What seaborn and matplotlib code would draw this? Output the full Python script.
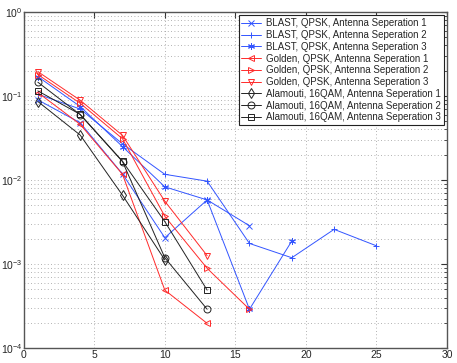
import matplotlib.pyplot as plt
import matplotlib as mpl
import seaborn as sns
import pandas as pd
import numpy as np

sns.set_style("white")
plt.rcParams['font.family'] = ['Liberation Sans', 'DejaVu Sans']
mpl.rcParams['axes.edgecolor'] = '#555555'

# SNR-like sweep points shared by all series
x_all = [1, 4, 7, 10, 13, 16, 19, 22, 25]

blast_1 = [0.09, 0.048, 0.0118, 0.00206, 0.0058, 0.00286]
blast_2 = [0.105, 0.07, 0.027, 0.0117, 0.0097, 0.00176, 0.00119, 0.00259, 0.00165]
blast_3 = [0.17, 0.075, 0.025, 0.0083, 0.0058, 0.00029, 0.00188]
golden_1 = [0.11, 0.046, 0.0117, 0.00049, 0.000197]
golden_2 = [0.18, 0.082, 0.031, 0.0037, 0.00089, 0.00029]
golden_3 = [0.195, 0.089, 0.034, 0.0056, 0.00126]
alamouti_1 = [0.086, 0.0343, 0.0066, 0.00112]
alamouti_2 = [0.146, 0.06, 0.0166, 0.00119, 0.00029]
alamouti_3 = [0.115, 0.0605, 0.0167, 0.0032, 0.00049]

asterisk = (6, 2, 0)
series = [
    ("BLAST, QPSK, Antenna Seperation 1", blast_1, "#3355ff", "x"),
    ("BLAST, QPSK, Antenna Seperation 2", blast_2, "#3355ff", "+"),
    ("BLAST, QPSK, Antenna Seperation 3", blast_3, "#3355ff", asterisk),
    ("Golden, QPSK, Antenna Seperation 1", golden_1, "#ff2a2a", "<"),
    ("Golden, QPSK, Antenna Seperation 2", golden_2, "#ff2a2a", ">"),
    ("Golden, QPSK, Antenna Seperation 3", golden_3, "#ff2a2a", "v"),
    ("Alamouti, 16QAM, Antenna Seperation 1", alamouti_1, "#222222", "d"),
    ("Alamouti, 16QAM, Antenna Seperation 2", alamouti_2, "#222222", "o"),
    ("Alamouti, 16QAM, Antenna Seperation 3", alamouti_3, "#222222", "s"),
]

fig = plt.figure(figsize=(4.57, 3.63), dpi=100)
ax = fig.add_axes([0.052, 0.041, 0.926, 0.926])

for name, vals, col, mk in series:
    df = pd.DataFrame({"x": x_all[:len(vals)], "y": vals})
    sns.lineplot(data=df, x="x", y="y", ax=ax, color=col, marker=mk,
                 markersize=5, markerfacecolor='none', markeredgecolor=col,
                 markeredgewidth=0.7, linewidth=0.7, label=name, sort=False)
    ln = ax.lines[-1]
    ln.set_color(col)
    ln.set_markeredgecolor(col)

ax.set_yscale('log')
ax.set_xlim(0, 30)
ax.set_ylim(1e-4, 1e0)
ax.set_xticks([0, 5, 10, 15, 20, 25, 30])
ax.set_xlabel("")
ax.set_ylabel("")
ax.grid(True, which='major', linestyle=(0, (1, 3)), color='#999999', linewidth=0.6)
ax.grid(True, which='minor', axis='y', linestyle=(0, (1, 3)), color='#999999', linewidth=0.6)
ax.tick_params(which='both', direction='in', top=True, right=True, labelsize=7.5, pad=1,
               color='#333333')
ax.tick_params(which='major', length=4)
ax.tick_params(which='minor', length=2)
for s in ax.spines.values():
    s.set_linewidth(1.0)

legend = ax.legend(loc='upper right', fontsize=7.0, fancybox=False, framealpha=1,
                   edgecolor='#222222', borderaxespad=0.35, handlelength=2.0,
                   labelspacing=0.18, borderpad=0.3, handletextpad=0.5)
legend.get_frame().set_linewidth(0.8)
for h, (_, _, col, _) in zip(legend.get_lines(), series):
    h.set_color(col)
    h.set_markeredgecolor(col)

plt.savefig("out.png", dpi=100)
